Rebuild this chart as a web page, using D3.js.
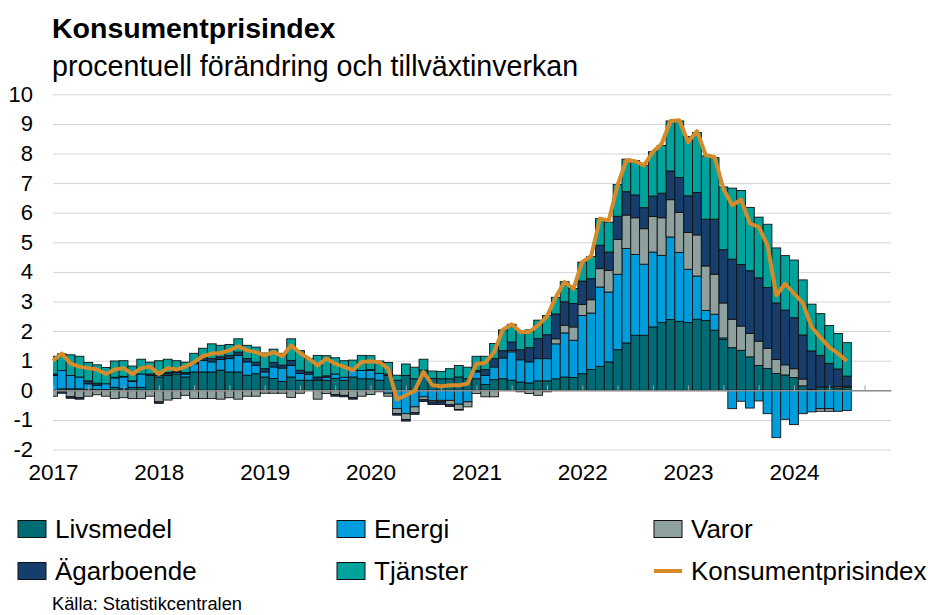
<!DOCTYPE html>
<html>
<head>
<meta charset="utf-8">
<script src="https://cdn.jsdelivr.net/npm/d3@7"></script>
<style>
  body { margin: 0; background: #fff; }
  svg { font-family: "Liberation Sans", Arial, sans-serif; }
</style>
</head>
<body>
<div id="chart"></div>
<script>
// Monthly values, Jan 2017 .. Jul 2024 (percentage points)
const livsmedel = [0.0,0.05,0.05,0.05,0.02,0.02,0.02,0.1,0.05,0.1,0.1,0.5,
  0.45,0.5,0.55,0.45,0.62,0.62,0.62,0.68,0.62,0.62,0.51,0.56,
  0.45,0.4,0.3,0.45,0.34,0.34,0.34,0.34,0.4,0.34,0.45,0.39,
  0.39,0.34,0.5,0.34,0.5,0.39,0.68,0.4,0.39,0.39,0.45,0.39,
  0.39,0.2,0.36,0.39,0.34,0.28,0.25,0.32,0.32,0.39,0.45,0.43,
  0.56,0.7,0.81,0.96,1.37,1.6,1.86,1.86,2.14,2.29,2.39,2.33,
  2.29,2.4,2.36,2.03,1.72,1.44,1.35,1.13,0.84,0.74,0.57,0.52,
  0.43,0.15,0.03,0.11,0.11,0.08,0.1];
const energi = [0.5,0.62,0.45,0.4,0.2,0.15,0.2,0.32,0.4,0.2,0.45,0.0,
  0.05,0.05,0.05,0.1,0.28,0.39,0.34,0.36,0.45,0.56,0.45,0.28,
  0.17,0.39,0.45,0.39,0.23,0.2,0.0,0.1,0.15,0.1,0.23,0.28,
  0.28,0.23,-0.1,-0.62,-0.79,-0.56,-0.22,-0.35,-0.34,-0.34,-0.47,-0.39,
  0.23,0.3,0.43,0.7,0.96,0.75,0.71,0.75,0.75,1.18,1.49,1.26,
  1.97,1.91,2.68,2.36,2.55,3.19,2.73,2.4,2.53,2.27,2.79,2.33,
  1.8,1.46,0.34,0.54,0.05,-0.62,-0.37,-0.6,-0.36,-0.79,-1.6,-0.98,
  -1.16,-0.79,-0.73,-0.62,-0.62,-0.71,-0.68];
const varor = [-0.2,-0.05,-0.22,-0.25,-0.2,-0.15,-0.2,-0.28,-0.25,-0.28,-0.28,-0.2,
  -0.39,-0.33,-0.28,-0.17,-0.28,-0.28,-0.28,-0.3,-0.25,-0.3,-0.2,-0.2,
  -0.1,-0.1,-0.1,-0.24,-0.1,0.0,-0.3,-0.11,-0.15,-0.17,-0.25,-0.2,
  -0.14,-0.05,-0.1,-0.17,-0.2,-0.2,-0.1,-0.05,-0.05,-0.15,-0.18,-0.17,
  -0.11,-0.22,-0.22,0.0,0.05,-0.05,-0.11,-0.17,-0.05,0.17,0.26,0.45,
  0.37,0.45,0.62,0.73,1.18,1.13,1.24,1.2,1.2,1.27,1.26,1.35,
  1.24,1.39,1.5,1.35,1.18,0.96,0.82,0.79,0.82,0.68,0.47,0.34,
  0.3,0.23,0.0,-0.09,-0.09,0.05,0.04];
const agarboende = [0.05,-0.05,-0.05,-0.05,0.1,0.07,0.0,0.02,0.02,0.02,0.0,0.05,
  -0.05,0.05,0.05,0.05,0.05,0.11,0.11,0.09,0.11,0.11,0.11,0.11,
  0.11,0.15,0.1,0.17,0.11,0.08,0.11,0.05,-0.05,-0.05,-0.05,0.0,
  0.03,0.0,0.05,-0.05,-0.05,-0.05,-0.06,-0.08,-0.09,-0.06,-0.02,0.0,
  0.05,0.2,0.28,0.25,0.28,0.34,0.48,0.68,0.81,0.84,0.79,0.79,
  0.79,0.71,0.79,0.62,0.78,0.79,0.77,0.71,0.69,0.83,0.97,1.18,
  1.24,1.43,1.58,1.86,1.8,2.03,2.08,2.12,2.14,2.05,1.91,1.85,
  1.72,1.49,1.3,1.07,0.8,0.59,0.34];
const tjanster = [0.6,0.56,0.7,0.7,0.62,0.62,0.55,0.55,0.53,0.5,0.5,0.4,
  0.5,0.45,0.35,0.35,0.3,0.3,0.5,0.39,0.37,0.45,0.45,0.51,
  0.53,0.45,0.4,0.73,0.66,0.45,0.73,0.68,0.55,0.56,0.34,0.51,
  0.47,0.42,0.39,0.17,0.39,0.39,0.37,0.25,0.25,0.34,0.39,0.39,
  0.48,0.45,0.51,0.7,0.6,0.65,0.6,0.62,0.65,0.56,0.68,0.51,
  0.64,0.75,0.9,1.01,1.07,1.1,1.16,1.43,1.5,1.61,1.69,1.91,
  2.0,2.03,2.14,2.08,2.12,2.4,2.5,2.14,2.05,2.14,1.86,1.84,
  1.95,1.86,1.58,1.41,1.28,1.2,1.13];
const kpi = [1.0,1.24,0.9,0.8,0.75,0.7,0.55,0.7,0.75,0.55,0.75,0.8,
  0.55,0.75,0.7,0.8,0.95,1.15,1.24,1.26,1.35,1.49,1.35,1.29,
  1.18,1.29,1.15,1.52,1.26,1.07,0.84,1.07,0.9,0.79,0.68,0.96,
  0.98,0.95,0.73,-0.31,-0.17,-0.02,0.62,0.17,0.14,0.17,0.17,0.22,
  0.9,0.92,1.29,2.05,2.23,1.97,1.97,2.2,2.5,3.15,3.66,3.43,
  4.34,4.53,5.8,5.74,6.93,7.77,7.74,7.6,8.05,8.33,9.1,9.12,
  8.39,8.76,7.94,7.88,6.81,6.25,6.44,5.63,5.52,4.9,3.21,3.6,
  3.27,2.95,2.14,1.78,1.46,1.24,0.99];

const years = ["2017","2018","2019","2020","2021","2022","2023","2024"];
const yTicks = [-2,-1,0,1,2,3,4,5,6,7,8,9,10];

const seriesNames = ["Livsmedel","Energi","Varor","Ägarboende","Tjänster"];
const seriesColors = ["#006b74","#009ddc","#8fa19f","#163e6c","#00a39c"];
const lineName = "Konsumentprisindex";
const lineColor = "#d68b2a";

const width = 928, height = 615;
const margin = { left: 53, right: 891, top: 94.3, bottom: 449.5 };

const svg = d3.select("#chart").append("svg")
  .attr("width", width)
  .attr("height", height);

// Titles
svg.append("text").attr("x", 52).attr("y", 38)
  .attr("font-size", 28.5).attr("font-weight", "bold").attr("fill", "#000")
  .text("Konsumentprisindex");
svg.append("text").attr("x", 52).attr("y", 76)
  .attr("font-size", 28.6).attr("fill", "#000")
  .text("procentuell förändring och tillväxtinverkan");

// Scales
const x = d3.scaleLinear().domain([0, 95]).range([margin.left, margin.right]);
const y = d3.scaleLinear().domain([-2, 10]).range([margin.bottom, margin.top]);
const bw = x(1) - x(0);

// Gridlines + y labels (plain hyphen for negatives)
const yAxis = svg.append("g")
  .attr("transform", `translate(${margin.left},0)`)
  .call(d3.axisLeft(y).tickValues(yTicks).tickSize(-(margin.right - margin.left))
    .tickPadding(20).tickFormat(d => String(d)));
yAxis.select(".domain").remove();
yAxis.selectAll(".tick line").attr("stroke", "#d4d4d4").attr("stroke-width", 1);
yAxis.selectAll(".tick text").attr("font-size", 22).attr("fill", "#000")
  .attr("font-family", "Liberation Sans, Arial, sans-serif");

// Stacked data
const data = kpi.map((k, i) => ({
  i,
  Livsmedel: livsmedel[i],
  Energi: energi[i],
  Varor: varor[i],
  "Ägarboende": agarboende[i],
  "Tjänster": tjanster[i]
}));
const stack = d3.stack().keys(seriesNames).offset(d3.stackOffsetDiverging);
const stacked = stack(data);

svg.append("clipPath").attr("id", "plotclip")
  .append("rect").attr("x", margin.left).attr("y", 0)
  .attr("width", margin.right - margin.left).attr("height", height);

const plot = svg.append("g").attr("clip-path", "url(#plotclip)");

plot.selectAll("g.series")
  .data(stacked)
  .join("g")
  .attr("class", "series")
  .attr("fill", (d, k) => seriesColors[k])
  .selectAll("rect")
  .data(d => d)
  .join("rect")
  .attr("x", d => x(d.data.i) - bw / 2)
  .attr("width", bw)
  .attr("y", d => y(Math.max(d[0], d[1])))
  .attr("height", d => Math.abs(y(d[0]) - y(d[1])))
  .attr("stroke", "#111")
  .attr("stroke-width", 0.9);

// Zero axis with upward ticks every 4 months
const monthTicks = d3.range(0, 93, 4);
const zeroAxis = svg.append("g")
  .attr("transform", `translate(0,${y(0)})`)
  .call(d3.axisTop(x).tickValues(monthTicks).tickSize(5).tickSizeOuter(0).tickFormat(""));
zeroAxis.select(".domain").attr("stroke", "#8c8c8c").attr("stroke-width", 1.5);
zeroAxis.selectAll(".tick line").attr("stroke", "#a0a0a0").attr("stroke-width", 1);

// Year labels
const xAxis = svg.append("g")
  .attr("transform", `translate(0,${margin.bottom + 11})`)
  .call(d3.axisBottom(x).tickValues(years.map((yr, k) => k * 12)).tickSize(0)
    .tickFormat((d, k) => years[k]).tickPadding(4));
xAxis.select(".domain").remove();
xAxis.selectAll(".tick text").attr("font-size", 22.5).attr("fill", "#000")
  .attr("font-family", "Liberation Sans, Arial, sans-serif");

// KPI line
const line = d3.line().x((d, i) => x(i)).y(d => y(d));
svg.append("path")
  .datum(kpi)
  .attr("fill", "none")
  .attr("stroke", lineColor)
  .attr("stroke-width", 4)
  .attr("stroke-linejoin", "round")
  .attr("d", line);

// Legend
const legendItems = [
  { name: "Livsmedel", color: seriesColors[0], col: 0, row: 0 },
  { name: "Energi", color: seriesColors[1], col: 1, row: 0 },
  { name: "Varor", color: seriesColors[2], col: 2, row: 0 },
  { name: "Ägarboende", color: seriesColors[3], col: 0, row: 1 },
  { name: "Tjänster", color: seriesColors[4], col: 1, row: 1 },
  { name: lineName, color: lineColor, col: 2, row: 1, line: true }
];
const colX = [18, 337, 654];
const rowY = [529, 571];
const legend = svg.append("g");
legendItems.forEach(it => {
  const gx = colX[it.col], gy = rowY[it.row];
  if (it.line) {
    legend.append("line").attr("x1", gx).attr("x2", gx + 28)
      .attr("y1", gy).attr("y2", gy)
      .attr("stroke", it.color).attr("stroke-width", 4);
  } else {
    legend.append("rect").attr("x", gx).attr("y", gy - 8.5)
      .attr("width", 28).attr("height", 17)
      .attr("fill", it.color).attr("stroke", "#111").attr("stroke-width", 1);
  }
  legend.append("text").attr("x", gx + 37).attr("y", gy)
    .attr("dy", "0.36em").attr("font-size", 26).attr("fill", "#000")
    .text(it.name);
});

svg.append("text").attr("x", 52).attr("y", 610)
  .attr("font-size", 18.3).attr("fill", "#000")
  .text("Källa: Statistikcentralen");
</script>
</body>
</html>
